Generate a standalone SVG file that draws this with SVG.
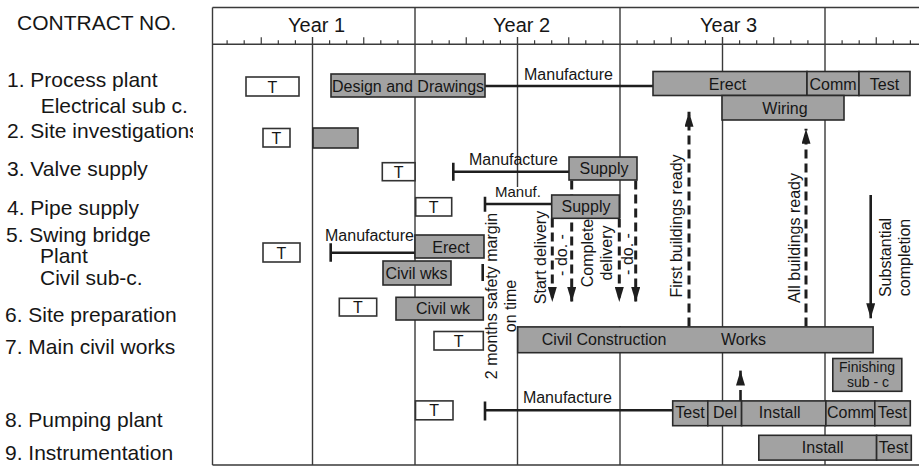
<svg xmlns="http://www.w3.org/2000/svg" width="919" height="467" viewBox="0 0 919 467">
<style>
text{font-family:"Liberation Sans",Arial,Helvetica,sans-serif;fill:#161616}
.lbl{font-size:21px}
.yr{font-size:20px}
.bt{font-size:16px;text-anchor:middle}
.bs{font-size:16px}
.an{font-size:16px}
.bar{fill:#a2a2a2;stroke:#2a2a2a;stroke-width:1.6}
.tb{fill:#fff;stroke:#333;stroke-width:1.6}
.grid{stroke:#3a3a3a;stroke-width:1.4;fill:none}
.tick{stroke:#3a3a3a;stroke-width:1.2;fill:none}
.gl{stroke:#1e1e1e;stroke-width:2.6;fill:none}
.dash{stroke:#1e1e1e;stroke-width:3;stroke-dasharray:9 5;fill:none}
.sol{stroke:#1e1e1e;stroke-width:2.6;fill:none}
</style>
<defs>
<marker id="ah" viewBox="0 0 15 9" refX="15" refY="4.5" markerWidth="15" markerHeight="9" markerUnits="userSpaceOnUse" orient="auto">
<path d="M0,0 L15,4.5 L0,9 z" fill="#1e1e1e"/>
</marker>
<clipPath id="lc"><rect x="0" y="0" width="193" height="467"/></clipPath>
</defs>
<rect x="0" y="0" width="919" height="467" fill="#fff"/>

<g id="labels" class="lbl" clip-path="url(#lc)">
<text x="17" y="29.5">CONTRACT NO.</text>
<text x="7" y="87.3">1. Process plant</text>
<text x="40.7" y="112.7">Electrical sub c.</text>
<text x="7" y="138.3">2. Site investigations</text>
<text x="7" y="176">3. Valve supply</text>
<text x="7" y="215">4. Pipe supply</text>
<text x="6" y="242">5. Swing bridge</text>
<text x="40" y="263.3">Plant</text>
<text x="40" y="285">Civil sub-c.</text>
<text x="5" y="321.7">6. Site preparation</text>
<text x="5" y="354">7. Main civil works</text>
<text x="5" y="426.7">8. Pumping plant</text>
<text x="5" y="460">9. Instrumentation</text>
</g>

<g id="frame">
<path class="grid" d="M212.5,7.5 H919 M212.5,44.3 H919 M212.5,7.5 V465 M212.5,465 H919"/>
<path class="grid" d="M415,7.5 V465 M620,7.5 V218 M620,326 V465 M825,7.5 V465"/>
<path class="grid" d="M312.5,37 V465 M517.5,37 V187 M517.5,326 V465 M722.5,37 V465"/>
<path class="tick" d="M227.1,40.3V44.3 M244.2,40.3V44.3 M261.25,37.3V44.3 M278.3,40.3V44.3 M295.4,40.3V44.3 M329.6,40.3V44.3 M346.7,40.3V44.3 M363.75,37.3V44.3 M380.8,40.3V44.3 M397.9,40.3V44.3
M432.1,40.3V44.3 M449.2,40.3V44.3 M466.25,37.3V44.3 M483.3,40.3V44.3 M500.4,40.3V44.3 M534.6,40.3V44.3 M551.7,40.3V44.3 M568.75,37.3V44.3 M585.8,40.3V44.3 M602.9,40.3V44.3
M637.1,40.3V44.3 M654.2,40.3V44.3 M671.25,37.3V44.3 M688.3,40.3V44.3 M705.4,40.3V44.3 M739.6,40.3V44.3 M756.7,40.3V44.3 M773.75,37.3V44.3 M790.8,40.3V44.3 M807.9,40.3V44.3
M842.1,40.3V44.3 M859.2,40.3V44.3 M876.25,37.3V44.3 M893.3,40.3V44.3 M910.4,40.3V44.3"/>
<text class="yr" x="288" y="31.7">Year 1</text>
<text class="yr" x="493" y="31.7">Year 2</text>
<text class="yr" x="700" y="31.7">Year 3</text>
</g>

<g id="connectors">
<path class="gl" d="M485,86 H653"/>
<path class="gl" d="M453.3,162.7 V180.7 M453.3,171.7 H569"/>
<path class="gl" d="M485,196.7 V211.7 M485,204 H551.7"/>
<path class="gl" d="M330.7,243.3 V261.7 M330.7,252.7 H415"/>
<path class="gl" d="M485,401.6 V420.5 M485,410.2 H672.7"/>
<path class="gl" d="M482.7,264 V281"/>
<path class="dash" d="M552.3,218.5 V302" marker-end="url(#ah)"/>
<path class="dash" d="M571.7,180.5 V302" marker-end="url(#ah)"/>
<path class="dash" d="M619.3,218.5 V302" marker-end="url(#ah)"/>
<path class="dash" d="M635.7,180.5 V302" marker-end="url(#ah)"/>
<path class="dash" d="M689,326.5 V111.7" marker-end="url(#ah)"/>
<path class="dash" d="M806,326.5 V128.8" marker-end="url(#ah)"/>
<path class="sol" d="M870.7,195 V318.3" marker-end="url(#ah)"/>
<path class="sol" d="M740.5,401 V390"/>
<path class="sol" d="M740.5,383.5 V370.6" marker-end="url(#ah)"/>
</g>

<g id="n1">
<rect class="tb" x="246" y="77" width="53" height="19"/>
<text class="bt" x="272.5" y="92.5">T</text>
<rect class="bar" x="331" y="74" width="154" height="23"/>
<text class="bt" x="408" y="91.5">Design and Drawings</text>
<text class="an" x="524" y="80">Manufacture</text>
<rect class="bar" x="653" y="71.5" width="154" height="24"/>
<text class="bt" x="727.5" y="89.5">Erect</text>
<rect class="bar" x="807" y="71.5" width="52" height="24"/>
<text class="bt" x="833" y="89.5">Comm</text>
<rect class="bar" x="859" y="71.5" width="51" height="24"/>
<text class="bt" x="884.5" y="89.5">Test</text>
<rect class="bar" x="722" y="95.5" width="122" height="24.5"/>
<text class="bt" x="785" y="113.5">Wiring</text>
</g>

<g id="n2">
<rect class="tb" x="263" y="128.5" width="27" height="18.5"/>
<text class="bt" x="276.5" y="143.5">T</text>
<rect class="bar" x="313" y="128" width="45" height="20"/>
</g>

<g id="n3">
<rect class="tb" x="382.3" y="162.7" width="32.7" height="18"/>
<text class="bt" x="398.6" y="177.5">T</text>
<text class="an" x="469" y="165">Manufacture</text>
<rect class="bar" x="569" y="157" width="68" height="23"/>
<text class="bt" x="604" y="173.5">Supply</text>
</g>

<g id="n4">
<rect class="tb" x="415.7" y="197.7" width="36" height="18.3"/>
<text class="bt" x="433.7" y="212.5">T</text>
<text class="an" x="495" y="197.3" style="font-size:15px">Manuf.</text>
<rect class="bar" x="551.7" y="195" width="67.6" height="23.3"/>
<text class="bt" x="586" y="212">Supply</text>
</g>

<g id="n5">
<rect class="tb" x="263" y="243" width="37" height="19"/>
<text class="bt" x="281.5" y="258.5">T</text>
<text class="an" x="325" y="240.7">Manufacture</text>
<rect class="bar" x="415" y="235" width="69" height="23"/>
<text class="bt" x="451" y="253.3">Erect</text>
<rect class="bar" x="383" y="261" width="68" height="24"/>
<text class="bt" x="416.5" y="278.5">Civil wks</text>
</g>

<g id="n6">
<rect class="tb" x="339.3" y="298.3" width="37.4" height="17.7"/>
<text class="bt" x="358" y="312.8">T</text>
<rect class="bar" x="396" y="297.3" width="87.3" height="22.7"/>
<text class="bt" x="443" y="313.5">Civil wk</text>
</g>

<g id="n7">
<rect class="tb" x="434" y="331.5" width="49.3" height="18.5"/>
<text class="bt" x="458.6" y="346.5">T</text>
<rect class="bar" x="517.7" y="326.9" width="355.4" height="25.8"/>
<text class="bs" x="541.8" y="344.8">Civil Construction</text>
<text class="bs" x="721" y="344.8">Works</text>
<rect class="bar" x="832.8" y="358.5" width="69" height="32.8"/>
<text class="bt" x="867" y="371.5" style="font-size:14px">Finishing</text>
<text class="bt" x="868" y="387" style="font-size:14px">sub - c</text>
</g>

<g id="n8">
<rect class="tb" x="415.5" y="400.9" width="37.5" height="18.9"/>
<text class="bt" x="434.2" y="416">T</text>
<text class="an" x="522.9" y="403.3">Manufacture</text>
<rect class="bar" x="672.7" y="400.9" width="35.1" height="24.8"/>
<text class="bt" x="690" y="418">Test</text>
<rect class="bar" x="707.8" y="400.9" width="33.8" height="24.8"/>
<text class="bt" x="725" y="418">Del</text>
<rect class="bar" x="741.6" y="400.9" width="84.3" height="24.8"/>
<text class="bs" x="758.8" y="418">Install</text>
<rect class="bar" x="825.9" y="400.9" width="48.9" height="24.8"/>
<text class="bt" x="850.5" y="418">Comm</text>
<rect class="bar" x="874.8" y="400.9" width="35.5" height="24.8"/>
<text class="bt" x="892.3" y="418">Test</text>
</g>

<g id="n9">
<rect class="bar" x="758.8" y="435.3" width="117.8" height="24.8"/>
<text class="bs" x="801.8" y="453.2">Install</text>
<rect class="bar" x="876.6" y="435.3" width="34.7" height="24.8"/>
<text class="bt" x="893.5" y="453.2">Test</text>
</g>

<g id="annotations" class="an" text-anchor="middle">
<text transform="translate(497,296) rotate(-90)">2 months safety margin</text>
<text transform="translate(516,306) rotate(-90)">on time</text>
<text transform="translate(545.5,257.5) rotate(-90)">Start delivery</text>
<text transform="translate(566.5,255) rotate(-90)">- do. -</text>
<text transform="translate(593.2,253) rotate(-90)">Complete</text>
<text transform="translate(611.5,253) rotate(-90)">delivery</text>
<text transform="translate(633,254) rotate(-90)">- do. -</text>
<text transform="translate(681.5,226) rotate(-90)">First buildings ready</text>
<text transform="translate(800,238) rotate(-90)">All buildings ready</text>
<text transform="translate(890.7,257.5) rotate(-90)">Substantial</text>
<text transform="translate(910,257.5) rotate(-90)">completion</text>
</g>
</svg>
